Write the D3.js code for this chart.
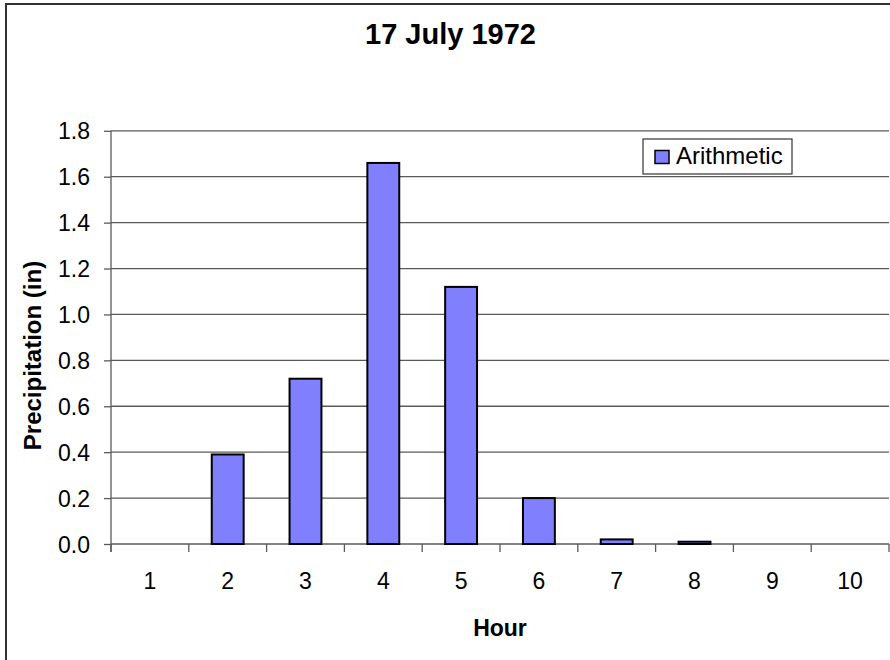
<!DOCTYPE html>
<html>
<head>
<meta charset="utf-8">
<script src="https://cdn.jsdelivr.net/npm/d3@7/dist/d3.min.js"></script>
<style>
  body { margin: 0; background: #fff; }
  text { font-family: Arial, "Liberation Sans", sans-serif; fill: #000; }
  .grid line { stroke: #5a5a5a; stroke-width: 1.3; }
  .axis path, .axis line { stroke: #5a5a5a; stroke-width: 1.3; }
</style>
</head>
<body>
<div id="chart"></div>
<script>
// chart values
var hours = ["1", "2", "3", "4", "5", "6", "7", "8", "9", "10"];
var arithmetic = [0, 0.39, 0.72, 1.66, 1.12, 0.20, 0.02, 0.01, 0, 0];
var yTicks = [0, 0.2, 0.4, 0.6, 0.8, 1.0, 1.2, 1.4, 1.6, 1.8];
var seriesName = "Arithmetic";
var titleText = "17 July 1972";

function draw() {
    var width = 890, height = 660;
    var plot = { left: 111, right: 889, top: 130.8, bottom: 544 };

    var svg = d3.select("#chart")
        .append("svg")
        .attr("width", width)
        .attr("height", height);

    // outer chart frame (runs off the right and bottom edges)
    svg.append("rect")
        .attr("x", 6)
        .attr("y", 4)
        .attr("width", 1000)
        .attr("height", 1000)
        .style("fill", "#fff")
        .style("stroke", "#333")
        .style("stroke-width", 2);

    var x = d3.scaleBand()
        .domain(hours)
        .range([plot.left, plot.right])
        .padding(0);

    var y = d3.scaleLinear()
        .domain([0, 1.8])
        .range([plot.bottom, plot.top]);

    // horizontal gridlines
    svg.append("g")
        .attr("class", "grid")
        .selectAll("line")
        .data(yTicks.slice(1))
      .enter().append("line")
        .attr("x1", plot.left)
        .attr("x2", plot.right)
        .attr("y1", function(d) { return y(d); })
        .attr("y2", function(d) { return y(d); });

    // y axis
    var yAxis = svg.append("g")
        .attr("class", "axis y")
        .attr("transform", "translate(" + plot.left + ",0)")
        .call(d3.axisLeft(y).tickValues(yTicks).tickSize(7).tickSizeOuter(0).tickFormat(d3.format(".1f")));
    yAxis.select(".domain").attr("d", "M0," + plot.top + "V" + (plot.bottom + 8));
    yAxis.selectAll("text")
        .attr("x", -21)
        .attr("dy", null)
        .attr("y", 8)
        .style("font-size", "23px")
        .style("font-family", "Arial, 'Liberation Sans', sans-serif");

    // x axis: ticks sit on category boundaries
    var xAxis = svg.append("g")
        .attr("class", "axis x")
        .attr("transform", "translate(0," + plot.bottom + ")");
    xAxis.append("line")
        .attr("x1", plot.left)
        .attr("x2", plot.right);
    xAxis.selectAll("line.tick")
        .data(hours.concat(["end"]))
      .enter().append("line")
        .attr("class", "tick")
        .attr("x1", function(d, i) { return plot.left + i * x.step(); })
        .attr("x2", function(d, i) { return plot.left + i * x.step(); })
        .attr("y1", 0)
        .attr("y2", 8);
    xAxis.selectAll("text")
        .data(hours)
      .enter().append("text")
        .attr("x", function(d) { return x(d) + x.bandwidth() / 2; })
        .attr("y", 45)
        .style("text-anchor", "middle")
        .style("font-size", "23px")
        .text(function(d) { return d; });

    // bars
    var barW = x.bandwidth() * 0.41;
    svg.selectAll("rect.bar")
        .data(arithmetic)
      .enter().append("rect")
        .attr("class", "bar")
        .attr("x", function(d, i) { return x(hours[i]) + (x.bandwidth() - barW) / 2; })
        .attr("y", function(d) { return y(d); })
        .attr("width", barW)
        .attr("height", function(d) { return y(0) - y(d); })
        .style("fill", "#8080ff")
        .style("stroke", function(d) { return d > 0 ? "#000" : "none"; })
        .style("stroke-width", 2);

    // title
    svg.append("text")
        .attr("x", 450.5)
        .attr("y", 44)
        .style("text-anchor", "middle")
        .style("font-size", "29px")
        .style("font-weight", "bold")
        .text(titleText);

    // axis titles
    svg.append("text")
        .attr("x", (plot.left + plot.right) / 2)
        .attr("y", 636)
        .style("text-anchor", "middle")
        .style("font-size", "23px")
        .style("font-weight", "bold")
        .text("Hour");

    svg.append("text")
        .attr("transform", "translate(40.5,355.5) rotate(-90)")
        .style("text-anchor", "middle")
        .style("font-size", "24px")
        .style("font-weight", "bold")
        .text("Precipitation (in)");

    // legend
    var legend = svg.append("g")
        .attr("class", "legend");
    legend.append("rect")
        .attr("x", 643)
        .attr("y", 139)
        .attr("width", 149)
        .attr("height", 35)
        .style("fill", "#fff")
        .style("stroke", "#333")
        .style("stroke-width", 1.2);
    legend.append("rect")
        .attr("x", 655)
        .attr("y", 150.5)
        .attr("width", 14)
        .attr("height", 13)
        .style("fill", "#8080ff")
        .style("stroke", "#000")
        .style("stroke-width", 1.5);
    legend.append("text")
        .attr("x", 676)
        .attr("y", 164)
        .style("font-size", "24px")
        .text(seriesName);
}

draw();
</script>
</body>
</html>
